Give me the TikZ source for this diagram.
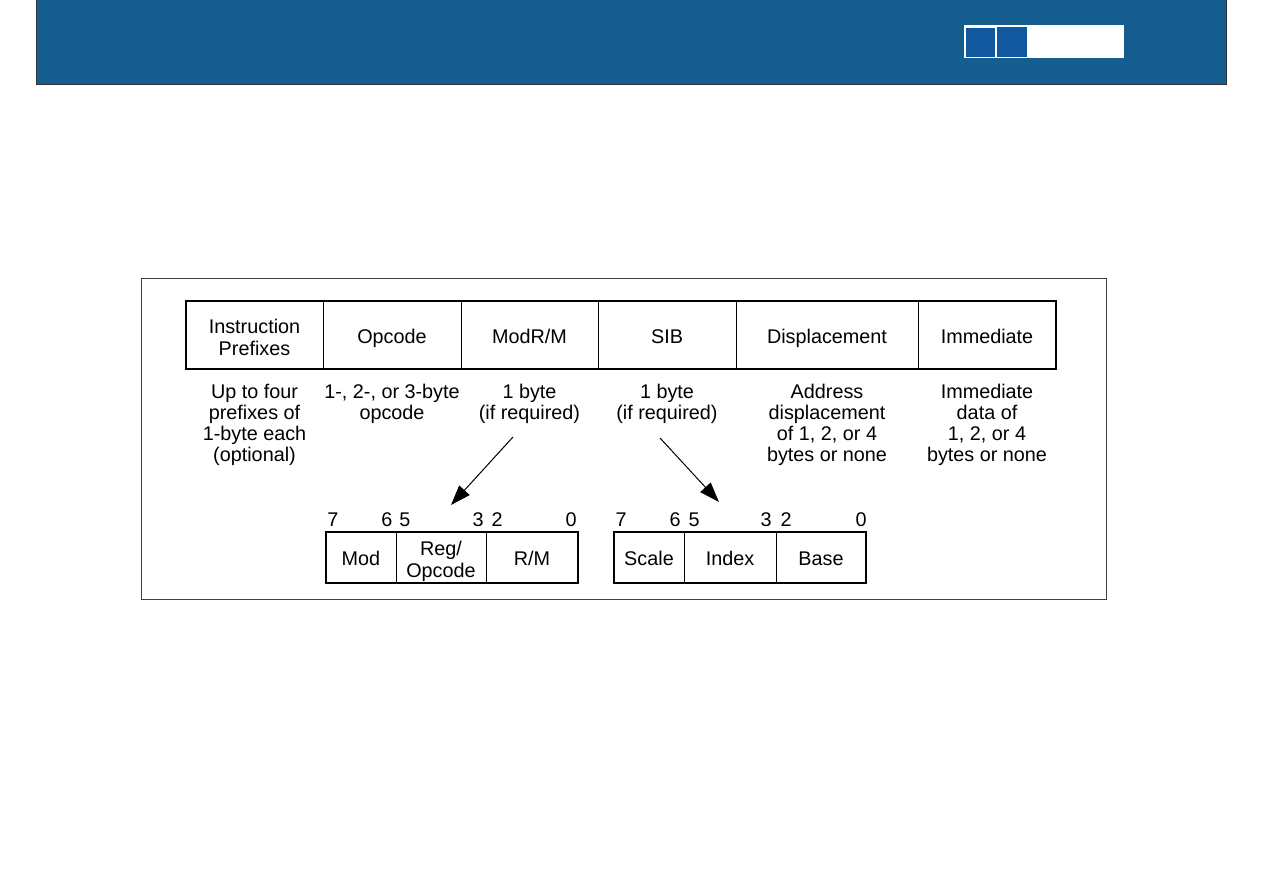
\documentclass[tikz,border=0pt]{standalone}
\usepackage{fontspec}
\setmainfont{Liberation Sans}
\usetikzlibrary{arrows.meta}
\definecolor{hdr}{RGB}{21,92,143}
\definecolor{sq}{RGB}{17,88,158}
\begin{document}
\begin{tikzpicture}[x=1pt,y=-1pt,
  txt/.style={inner sep=0pt,align=center,font=\fontsize{19.8}{21.3}\selectfont},
  lbl/.style={txt,text height=14pt,text depth=0pt},
  bit/.style={inner sep=0pt,anchor=base,font=\fontsize{19.8}{21.3}\selectfont},
  cell/.style={draw,line width=0.8pt,inner sep=0pt},
  arr/.style={line width=1pt,-{Triangle[length=20pt,width=14pt]}}]
\useasboundingbox (0,0) rectangle (1263,893);
% header
\fill[hdr,draw=black!80,line width=1.2pt] (36.5,-2) rectangle (1226.5,84.5);
\fill[white] (964,25) rectangle (1124,58);
\fill[sq] (966,28) rectangle (995,57);
\fill[sq] (997,27) rectangle (1027,57);
% frame
\draw[black!75,line width=0.8pt] (141,278) rectangle (1106,599);
% main row cells
\node[cell,minimum width=137pt,minimum height=68pt] (pfx) at (254.5,335) {};
\node[cell,minimum width=138pt,minimum height=68pt] (opc) at (392,335) {};
\node[cell,minimum width=137pt,minimum height=68pt] (mrm) at (529.5,335) {};
\node[cell,minimum width=138pt,minimum height=68pt] (sib) at (667,335) {};
\node[cell,minimum width=182pt,minimum height=68pt] (dsp) at (827,335) {};
\node[cell,minimum width=138pt,minimum height=68pt] (imm) at (987,335) {};
\draw[line width=2.2pt] (186,301) rectangle (1056,369);
\node[txt] at ([yshift=-2.5pt]pfx) {Instruction\\Prefixes};
\node[lbl] at ([yshift=-1pt]opc) {Opcode};
\node[lbl] at ([yshift=-1pt]mrm) {ModR/M};
\node[lbl] at ([yshift=-1pt]sib) {SIB};
\node[lbl] at ([yshift=-1pt]dsp) {Displacement};
\node[lbl] at ([yshift=-1pt]imm) {Immediate};
% descriptions
\node[txt,anchor=north] (dpfx) at (254.5,383.5) {Up to four\\prefixes of\\1-byte each\\(optional)};
\node[txt,anchor=north] (dopc) at (392,383.5) {1-, 2-, or 3-byte\\opcode};
\node[txt,anchor=north] (dmrm) at (529.5,383.5) {1 byte\\(if required)};
\node[txt,anchor=north] (dsib) at (667,383.5) {1 byte\\(if required)};
\node[txt,anchor=north] (ddsp) at (827,383.5) {Address\\displacement\\of 1, 2, or 4\\bytes or none};
\node[txt,anchor=north] (dimm) at (987,383.5) {Immediate\\data of\\1, 2, or 4\\bytes or none};
% ModR/M byte
\node[cell,minimum width=70pt,minimum height=51pt] (mod) at (361,557.5) {};
\node[cell,minimum width=90pt,minimum height=51pt] (reg) at (441,557.5) {};
\node[cell,minimum width=92pt,minimum height=51pt] (rm) at (532,557.5) {};
\draw[line width=1.6pt] (326,532) rectangle (578,583);
\node[lbl] at ([yshift=-1pt]mod) {Mod};
\node[txt] at ([yshift=-4pt]reg) {Reg/\\Opcode};
\node[lbl] at ([yshift=-1pt]rm) {R/M};
\node[bit] at (333,526) {7};
\node[bit] at (387,526) {6};
\node[bit] at (405,526) {5};
\node[bit] at (478,526) {3};
\node[bit] at (497,526) {2};
\node[bit] at (571,526) {0};
% SIB byte
\node[cell,minimum width=70pt,minimum height=51pt] (scl) at (649,557.5) {};
\node[cell,minimum width=92pt,minimum height=51pt] (idx) at (730,557.5) {};
\node[cell,minimum width=90pt,minimum height=51pt] (bse) at (821,557.5) {};
\draw[line width=1.6pt] (614,532) rectangle (866,583);
\node[lbl] at ([yshift=-1pt]scl) {Scale};
\node[lbl] at ([yshift=-1pt]idx) {Index};
\node[lbl] at ([yshift=-1pt]bse) {Base};
\node[bit] at (621,526) {7};
\node[bit] at (675,526) {6};
\node[bit] at (694,526) {5};
\node[bit] at (766,526) {3};
\node[bit] at (786,526) {2};
\node[bit] at (861,526) {0};
% arrows
\coordinate (a1) at (513,437);
\coordinate (a1e) at (451,505);
\coordinate (a2) at (660,438);
\coordinate (a2e) at (719,502);
\draw[arr] (a1) -- (a1e);
\draw[arr] (a2) -- (a2e);
\end{tikzpicture}
\end{document}
